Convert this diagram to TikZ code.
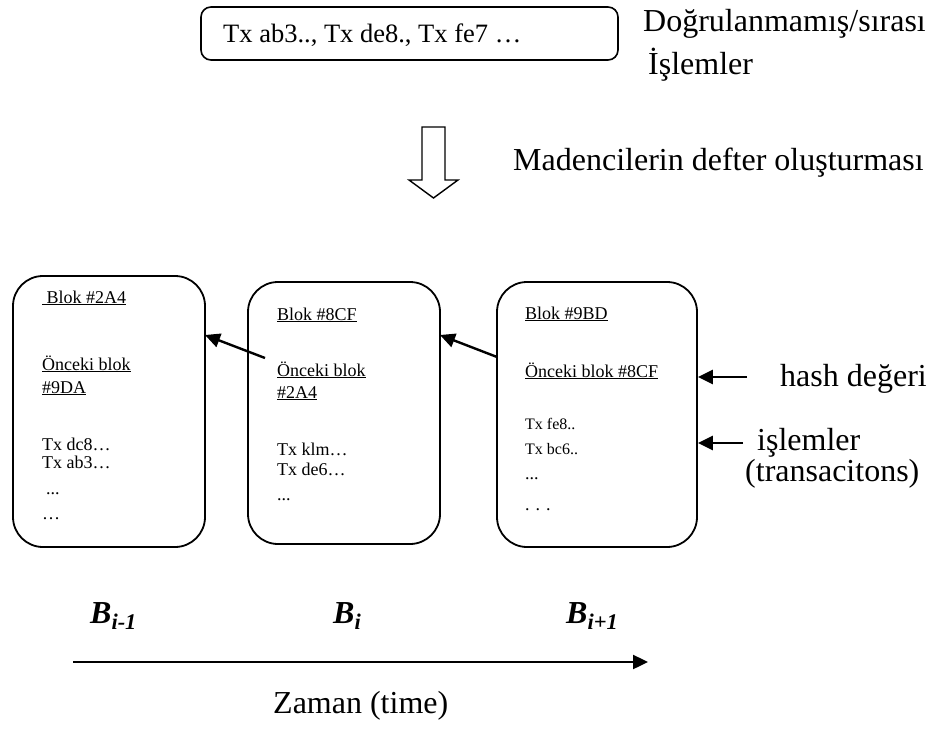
\documentclass[tikz,border=0pt]{standalone}
\usepackage{fontspec}
\setmainfont{Liberation Serif}
\usetikzlibrary{arrows.meta}
\begin{document}
\begin{tikzpicture}[x=1pt,y=-1pt,
  txt/.style={anchor=base west, inner sep=0pt},
  big/.style={txt, font=\fontsize{32}{38}\selectfont},
  mid/.style={txt, font=\fontsize{26.5}{31}\selectfont},
  small/.style={txt, font=\fontsize{18}{22}\selectfont},
  tiny/.style={txt, font=\fontsize{16}{19}\selectfont},
  blab/.style={txt, font=\fontsize{32}{38}\selectfont\bfseries\itshape},
  blk/.style={draw, line width=1.8pt, rounded corners=30pt, inner sep=0pt},
  link/.style={line width=2.4pt, -{Triangle[length=15pt,width=14pt]}},
  ]
\useasboundingbox (0,0) rectangle (937,733);

% pool of pending transactions
\node[draw, line width=1.6pt, rounded corners=10pt, inner sep=0pt,
      minimum width=417pt, minimum height=53pt] (pool) at (409.5,33.5) {};
\node[mid] (pooltx) at (223,43) {Tx ab3.., Tx de8., Tx fe7 …};
\node[big] (poolA) at (643,32) {Doğrulanmamış/sırası};
\node[big] (poolB) at (648,75) {İşlemler};

% hollow arrow: miners build the ledger
\draw[line width=1.4pt] (422,127) -- (445,127) -- (445,180) -- (458,180)
  -- (433.5,198) -- (409,180) -- (422,180) -- cycle;
\node[big] (mine) at (513,171) {Madencilerin defter oluşturması};

% blocks
\node[blk, minimum width=192pt, minimum height=271pt] (b1) at (109,411.5) {};
\node[blk, minimum width=192pt, minimum height=262pt] (b2) at (344,413) {};
\node[blk, minimum width=200pt, minimum height=265pt] (b3) at (597,414.5) {};

% block B_{i-1}
\node[small] (b1h) at (42,303) {\underline{\ Blok \#2A4}};
\node[small] (b1p) at (42,370) {\underline{Önceki blok}};
\node[small] (b1q) at (42,393) {\underline{\#9DA}};
\node[small] (b1t1) at (42,450) {Tx dc8…};
\node[small] (b1t2) at (42,468) {Tx ab3…};
\node[small] (b1d1) at (46,494) {...};
\node[small] (b1d2) at (42,519) {…};

% block B_i
\node[small] (b2h) at (277,320) {\underline{Blok \#8CF}};
\node[small] (b2p) at (277,376) {\underline{Önceki blok}};
\node[small] (b2q) at (277,398) {\underline{\#2A4}};
\node[small] (b2t1) at (277,455) {Tx klm…};
\node[small] (b2t2) at (277,475) {Tx de6…};
\node[small] (b2d1) at (277,500) {...};

% block B_{i+1}
\node[small] (b3h) at (525,319) {\underline{Blok \#9BD}};
\node[small] (b3p) at (525,377) {\underline{Önceki blok \#8CF}};
\node[tiny] (b3t1) at (525,429) {Tx fe8..};
\node[tiny] (b3t2) at (525,454) {Tx bc6..};
\node[small] (b3d1) at (525,479) {...};
\node[small] (b3d2) at (525,510) {. . .};

% back links to the previous block
\coordinate (l1tail) at (265,358);
\coordinate (l1tip) at (205,335);
\coordinate (l2tail) at (497,357);
\coordinate (l2tip) at (440,335);
\draw[link] (l1tail) -- (l1tip);
\draw[link] (l2tail) -- (l2tip);

% annotations on the right
\coordinate (hashtail) at (747,377);
\coordinate (txtail) at (743,443);
\draw[link] (hashtail) -- (hashtail -| b3.east);
\draw[link] (txtail) -- (txtail -| b3.east);
\node[big] (hashlbl) at (780,386) {hash değeri};
\node[big] (txlbl) at (757,450) {işlemler};
\node[big] (txlbl2) at (745,481) {(transacitons)};

% block indices
\node[blab] (ia) at (90,623) {B\textsubscript{i-1}};
\node[blab] (ib) at (333,623) {B\textsubscript{i}};
\node[blab] (ic) at (566,623) {B\textsubscript{i+1}};

% time axis
\coordinate (tstart) at (73,662);
\coordinate (tend) at (648,662);
\draw[link] (tstart) -- (tend);
\node[big] (time) at (273,713) {Zaman (time)};
\end{tikzpicture}
\end{document}
